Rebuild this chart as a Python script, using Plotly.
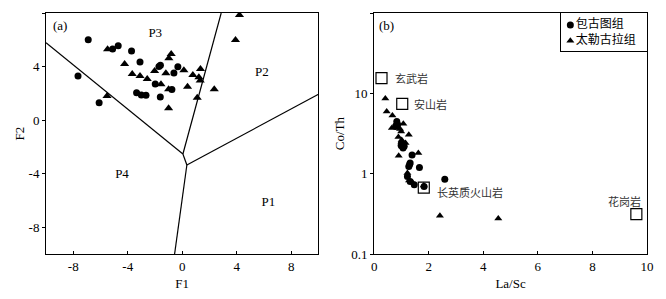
import math
import plotly.graph_objects as go

# ---------------- Panel (a): F1-F2 discriminant diagram ----------------
a_circle_f1 = [-6.9, -7.65, -6.1, -5.11, -4.70, -3.72, -3.10, -3.35, -3.0, -2.66,
               -1.98, -1.61, -1.71, -1.6, -0.76, -0.61, -0.32]
a_circle_f2 = [6.0, 3.3, 1.3, 5.31, 5.56, 5.16, 4.34, 2.05, 1.88, 1.85,
               2.70, 1.73, 4.0, 4.1, 2.28, 3.52, 3.99]

a_tri_f1 = [-5.48, -4.23, -3.67, -3.10, -2.57, -5.52, -2.03, -1.56, -1.20, -0.81,
            -0.98, -1.0, -1.0, 0.12, 0.78, 1.22, 1.34, 1.32, 0.39, 1.1,
            2.35, 3.91, 4.2]
a_tri_f2 = [5.29, 4.19, 3.44, 3.29, 3.07, 1.80, 3.67, 2.67, 3.50, 4.94,
            4.62, 2.3, 0.88, 3.72, 3.37, 3.2, 3.82, 2.95, 2.5, 1.67,
            2.30, 5.98, 7.85]

# field boundaries (segments separated by None)
boundary_f1 = [-10, 0.05, None, 0.05, 2.86, None, 0.05, 0.34, None, 0.34, 10, None, 0.34, -0.56]
boundary_f2 = [5.78, -2.53, None, -2.53, 8.0, None, -2.53, -3.35, None, -3.35, 1.93, None, -3.35, -10]

field_labels = ["P3", "P2", "P4", "P1"]
field_f1 = [-1.98, 5.85, -4.42, 6.33]
field_f2 = [6.48, 3.54, -4.1, -6.14]

a_ticks = [-8, -4, 0, 4, 8]
a_ticktext = ["-8", "-4", "0", "4", "8"]

# ---------------- Panel (b): La/Sc vs Co/Th ----------------
b_circle_lasc = [0.83, 0.79, 0.86, 0.99, 1.06, 1.10, 1.39, 1.32, 1.27, 1.30,
                 1.66, 1.22, 1.32, 1.47, 2.59, 1.83, 1.01]
b_circle_coth = [4.47, 3.87, 4.1, 2.24, 2.08, 2.2, 1.71, 1.36, 1.23, 1.30,
                 1.19, 0.92, 0.80, 0.73, 0.85, 0.69, 2.4]

b_tri_lasc = [0.41, 0.46, 0.67, 0.65, 1.07, 0.99, 1.27, 0.89, 1.01, 0.90,
              1.62, 1.22, 1.28, 1.40, 1.82, 2.41, 4.55, 0.81, 1.07, 1.05,
              0.95, 1.15, 1.0]
b_tri_coth = [8.65, 5.96, 5.3, 3.7, 4.17, 3.36, 3.05, 2.86, 2.63, 1.67,
              1.81, 1.02, 0.82, 0.78, 0.71, 0.30, 0.277, 4.27, 2.29, 2.15,
              3.6, 2.4, 2.5]

ref_names = ["玄武岩", "安山岩", "长英质火山岩", "花岗岩"]
ref_lasc = [0.27, 1.03, 1.82, 9.61]
ref_coth = [15.5, 7.4, 0.67, 0.314]

b_xticks = [0, 2, 4, 6, 8, 10]
b_yticks = [0.1, 1, 10, 100]
b_yticktext = ["0.1", "1", "10", "100"]

series_names = ["包古图组", "太勒古拉组"]

FONT = "Liberation Serif, Noto Sans CJK SC"
CJK = "Noto Sans CJK SC"

# page places the figure 8px in from the window edge (body margin)
OFF = 8
WIN_W, WIN_H = 666, 299
W, H = WIN_W - 2 * OFF, WIN_H - 2 * OFF
# target plot-area edges in window pixels
PLOT_TOP, PLOT_BOT = 13, 254
A_LEFT, A_RIGHT = 45.7, 318.3
B_LEFT, B_RIGHT = 374, 647
ML = A_LEFT - OFF
MR = W - (B_RIGHT - OFF)
MT = PLOT_TOP - OFF
MB = H - (PLOT_BOT - OFF)
PW = W - ML - MR
PH = H - MT - MB


def xdom(px0, px1):
    return [min(1, max(0, (px0 - A_LEFT) / PW)), min(1, max(0, (px1 - A_LEFT) / PW))]


fig = go.Figure()

# panel a
fig.add_trace(go.Scatter(x=boundary_f1, y=boundary_f2, mode="lines",
                         line=dict(color="black", width=1.2),
                         showlegend=False, hoverinfo="skip", xaxis="x", yaxis="y"))
fig.add_trace(go.Scatter(x=a_circle_f1, y=a_circle_f2, mode="markers",
                         marker=dict(symbol="circle", size=7, color="black"),
                         showlegend=False, xaxis="x", yaxis="y", name=series_names[0]))
fig.add_trace(go.Scatter(x=a_tri_f1, y=a_tri_f2, mode="markers",
                         marker=dict(symbol="triangle-up", size=8, color="black"),
                         showlegend=False, xaxis="x", yaxis="y", name=series_names[1]))
fig.add_trace(go.Scatter(x=field_f1, y=field_f2, mode="text", text=field_labels,
                         textfont=dict(family=FONT, size=13, color="black"),
                         showlegend=False, hoverinfo="skip", xaxis="x", yaxis="y"))

# panel b
fig.add_trace(go.Scatter(x=b_circle_lasc, y=b_circle_coth, mode="markers",
                         marker=dict(symbol="circle", size=7, color="black"),
                         name=series_names[0], showlegend=False, xaxis="x2", yaxis="y2"))
fig.add_trace(go.Scatter(x=b_tri_lasc, y=b_tri_coth, mode="markers",
                         marker=dict(symbol="triangle-up", size=7, color="black"),
                         name=series_names[1], showlegend=False, xaxis="x2", yaxis="y2"))
fig.add_trace(go.Scatter(x=ref_lasc, y=ref_coth, mode="markers",
                         marker=dict(symbol="square-open", size=11, color="black",
                                     line=dict(width=1.2, color="black")),
                         showlegend=False, hoverinfo="skip", xaxis="x2", yaxis="y2"))

# legend box (panel b) drawn on a helper axis pair in pixel units
fig.add_trace(go.Scatter(x=[9, 9], y=[12, 27.5], mode="markers+text",
                         marker=dict(symbol=["circle", "triangle-up"], size=7, color="black"),
                         text=series_names, textposition="middle right",
                         textfont=dict(family=CJK, size=12, color="black"),
                         showlegend=False, hoverinfo="skip", xaxis="x3", yaxis="y3"))

ref_shift = [(11, 0, "left"), (10, 0, "left"), (11, -4, "left"), (-12, 13, "center")]
annotations = [
    dict(text="(a)", x=-9.0, y=7.1, xref="x", yref="y", showarrow=False,
         font=dict(family=FONT, size=13, color="black"), xanchor="center"),
    dict(text="(b)", x=0.45, y=1.84, xref="x2", yref="y2", showarrow=False,
         font=dict(family=FONT, size=13, color="black"), xanchor="center"),
]
for name, lx, ly, (dx, dy, anc) in zip(ref_names, ref_lasc, ref_coth, ref_shift):
    annotations.append(dict(text=name, x=lx, y=math.log10(ly), xref="x2", yref="y2",
                            showarrow=False, xanchor=anc, yanchor="middle",
                            xshift=dx, yshift=dy,
                            font=dict(family=CJK, size=11, color="#333")))

axis_common = dict(showline=True, linecolor="black", linewidth=1, mirror=True,
                   showgrid=False, zeroline=False, ticklen=3, tickcolor="black",
                   automargin=False,
                   tickfont=dict(family=FONT, size=13, color="black"))

xa_dom = xdom(A_LEFT, A_RIGHT)
xb_dom = xdom(B_LEFT, B_RIGHT)
leg_x = xdom(561.3, 647)
y_dom = [0, 1]
leg_y = [1 - (51 - PLOT_TOP) / PH, 1]

fig.update_layout(
    width=W, height=H,
    template="none",
    margin=dict(l=ML, r=MR, t=MT, b=MB, autoexpand=False),
    paper_bgcolor="white", plot_bgcolor="white",
    font=dict(family=FONT, size=13, color="black"),
    showlegend=False,
    xaxis=dict(domain=xa_dom, range=[-10, 10], tickvals=a_ticks, ticktext=a_ticktext,
               ticks="inside", anchor="y",
               title=dict(text="F1", font=dict(family=FONT, size=13), standoff=8),
               **axis_common),
    yaxis=dict(domain=y_dom, range=[-10, 8], tickvals=a_ticks, ticktext=a_ticktext,
               ticks="outside", anchor="x",
               title=dict(text="F2", font=dict(family=FONT, size=13), standoff=1),
               **axis_common),
    xaxis2=dict(domain=xb_dom, range=[0, 10], tickvals=b_xticks,
                ticks="inside", anchor="y2",
                title=dict(text="La/Sc", font=dict(family=FONT, size=13), standoff=8),
                **axis_common),
    yaxis2=dict(domain=y_dom, type="log", range=[-1, 2], tickvals=b_yticks,
                ticktext=b_yticktext, ticks="outside", anchor="x2",
                title=dict(text="Co/Th", font=dict(family=FONT, size=13), standoff=3),
                **axis_common),
    xaxis3=dict(domain=leg_x, range=[0, 647 - 561.3], anchor="y3", showline=True,
                linecolor="black", linewidth=1, mirror=True, showgrid=False,
                zeroline=False, showticklabels=False, ticks="", fixedrange=True),
    yaxis3=dict(domain=leg_y, range=[51 - 13.3, 0], anchor="x3", showline=True,
                linecolor="black", linewidth=1, mirror=True, showgrid=False,
                zeroline=False, showticklabels=False, ticks="", fixedrange=True),
    annotations=annotations,
)

fig.write_html("out.html")
